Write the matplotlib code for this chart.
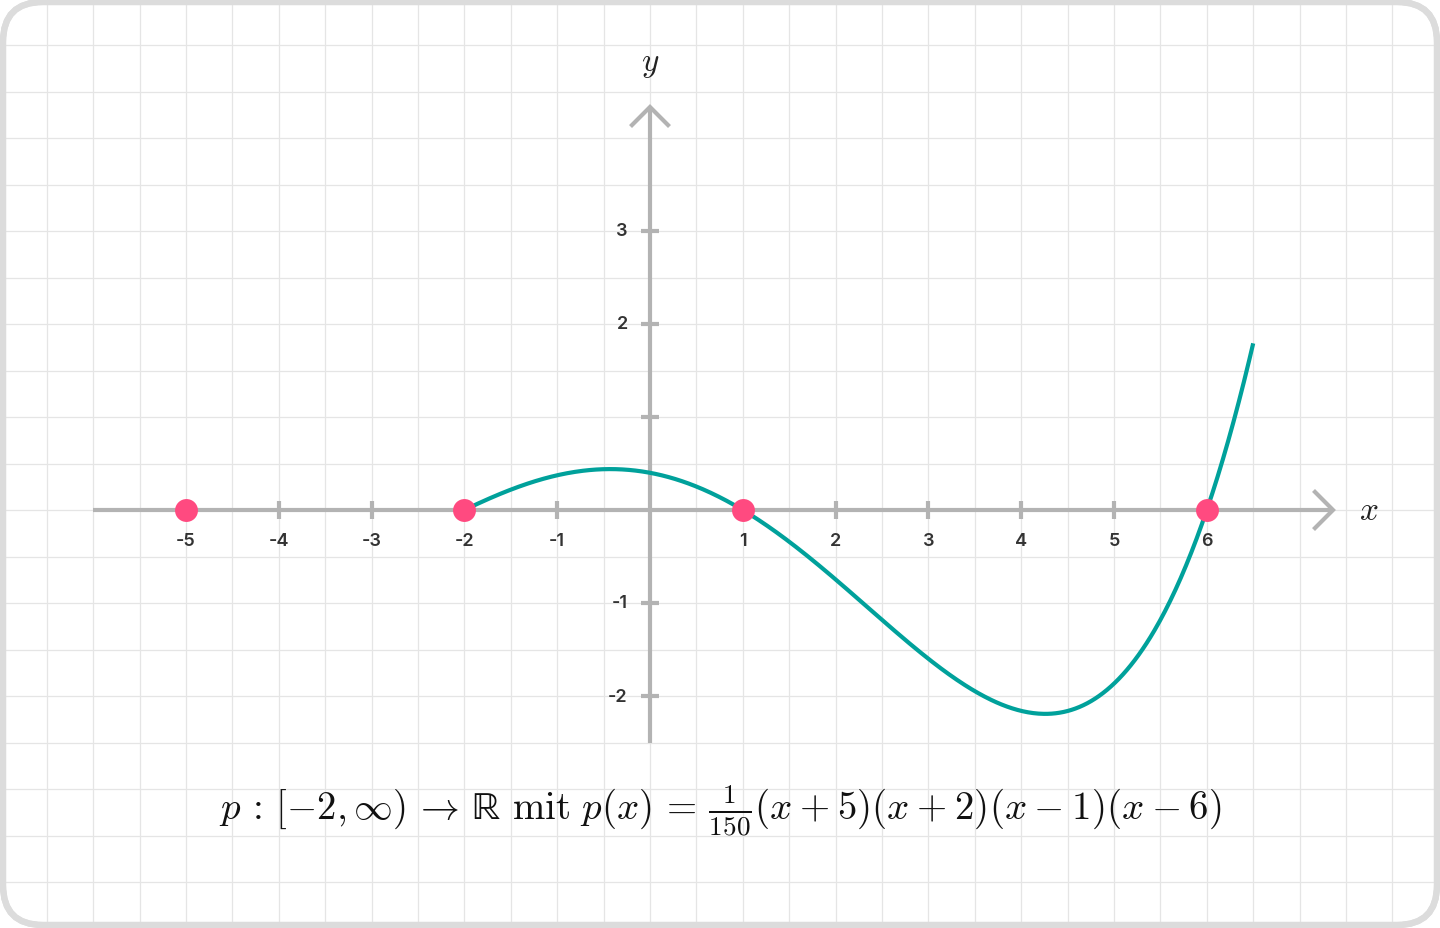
import numpy as np
import matplotlib
matplotlib.use("Agg")
import matplotlib.pyplot as plt
from matplotlib.patches import FancyBboxPatch

# ---- data ----
roots = [-5, -2, 1, 6]            # marked zeros
factor_roots = [-5, -2, 1, 6]     # p(x) = 1/150 (x+5)(x+2)(x-1)(x-6)
lead_coef = 1 / 150
domain = [-2, 6.5]
x_ticks = [-5, -4, -3, -2, -1, 1, 2, 3, 4, 5, 6]
x_tick_labels = ["-5", "-4", "-3", "-2", "-1", "1", "2", "3", "4", "5", "6"]
y_ticks = [-2, -1, 1, 2, 3]
y_tick_labels = ["-2", "-1", "", "2", "3"]
formula = (r"$p\,:\,[-2,\infty)\,\rightarrow\,\mathrm{ℝ}\ \mathrm{mit}\ p(x)\,=\,"
           r"\frac{1}{150}(x\:+\:5)(x\:+\:2)(x\:-\:1)(x\:-\:6)$")

plt.rcParams["mathtext.fontset"] = "cm"
plt.rcParams["mathtext.fallback"] = "stix"

W, H = 1440, 929
fig = plt.figure(figsize=(W / 100, H / 100), dpi=100)
ax = fig.add_axes([0, 0, 1, 1])
sx, sy = 92.8, 93.0
x0px, y0px = 650, 511
ax.set_xlim(-x0px / sx, (W - x0px) / sx)
ax.set_ylim((y0px - H) / sy, y0px / sy)
ax.axis("off")

def px2x(p):
    return (p - x0px) / sx

def px2y(p):
    return (y0px - p) / sy

# frame
fx0, fx1 = px2x(3), px2x(W - 3)
fy0, fy1 = px2y(H - 3), px2y(3)
frame = FancyBboxPatch((fx0, fy0), fx1 - fx0, fy1 - fy0,
                       boxstyle="round,pad=0,rounding_size=0.43",
                       facecolor="white", edgecolor="#dcdcdc", linewidth=4.5,
                       zorder=0)
ax.add_patch(frame)

# grid
for gx in np.arange(-7, 8.51, 0.5):
    ln, = ax.plot([gx, gx], [-5, 6], color="#e5e5e5", lw=0.9, zorder=1)
    ln.set_clip_path(frame)
for gy in np.arange(-4.5, 5.51, 0.5):
    ln, = ax.plot([-8, 9], [gy, gy], color="#e5e5e5", lw=0.9, zorder=1)
    ln.set_clip_path(frame)
frame2 = FancyBboxPatch((fx0, fy0), fx1 - fx0, fy1 - fy0,
                        boxstyle="round,pad=0,rounding_size=0.43",
                        facecolor="none", edgecolor="#dcdcdc", linewidth=4.5,
                        zorder=2)
ax.add_patch(frame2)

axc = "#b3b3b3"
alw = 3.0
# x axis
x_tip = px2x(1333)
ax.plot([-6, x_tip], [0, 0], color=axc, lw=alw, solid_capstyle="butt", zorder=3)
a = 0.21
ax.plot([x_tip - a, x_tip, x_tip - a], [a, 0, -a], color=axc, lw=alw,
        solid_joinstyle="miter", solid_capstyle="butt", zorder=3)
# y axis
y_tip = px2y(108)
ax.plot([0, 0], [-2.5, y_tip], color=axc, lw=alw, solid_capstyle="butt", zorder=3)
ax.plot([-a, 0, a], [y_tip - a, y_tip, y_tip - a], color=axc, lw=alw,
        solid_joinstyle="miter", solid_capstyle="butt", zorder=3)

tl = 0.1
for xt, lab in zip(x_ticks, x_tick_labels):
    ax.plot([xt, xt], [-tl, tl], color=axc, lw=alw, solid_capstyle="butt", zorder=3)
    ax.text(xt, -0.33, lab, ha="center", va="center", fontsize=13,
            family="Inter", fontweight="semibold", color="#333333", zorder=4)
for yt, lab in zip(y_ticks, y_tick_labels):
    ax.plot([-tl, tl], [yt, yt], color=axc, lw=alw, solid_capstyle="butt", zorder=3)
    if lab:
        ax.text(-0.24, yt, lab, ha="right", va="center", fontsize=13,
                family="Inter", fontweight="semibold", color="#333333", zorder=4)

ax.text(px2x(1369), 0, r"$x$", ha="center", va="center", fontsize=24, color="#222222")
ax.text(0, px2y(64), r"$y$", ha="center", va="center", fontsize=24, color="#222222")

# curve
xs = np.linspace(domain[0], domain[1], 600)
ys = lead_coef * np.prod([xs - r for r in factor_roots], axis=0)
ax.plot(xs, ys, color="#00a19b", lw=3.0, zorder=5, solid_capstyle="butt")

ax.plot(roots, [0] * len(roots), "o", color="#ff4a80", markersize=16.5,
        markeredgewidth=0, zorder=6)

ax.text(px2x(720), px2y(811), formula, ha="center", va="center",
        fontsize=28, color="#111111", zorder=4)

fig.savefig("out.png", dpi=100)
